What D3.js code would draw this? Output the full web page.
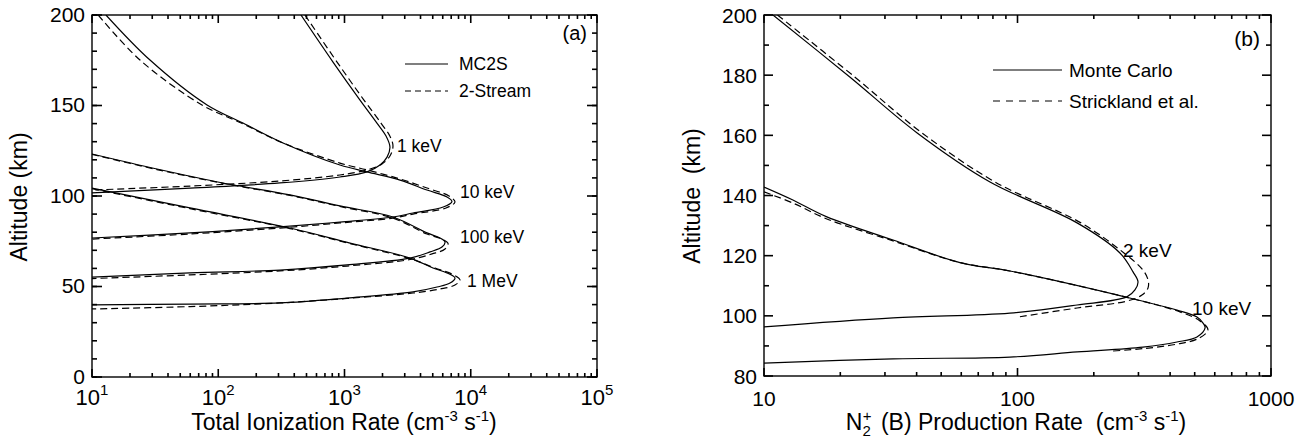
<!DOCTYPE html>
<html>
<head>
<meta charset="utf-8">
<script src="https://cdn.jsdelivr.net/npm/d3@7"></script>
<style>
  body { margin: 0; background: #fff; }
  text { font-family: "Liberation Sans", Arial, Helvetica, sans-serif; fill: #000; white-space: pre; }
</style>
</head>
<body>
<svg id="chart" width="1312" height="440"></svg>
<script>
// ---- panel (a): total ionization rate, [rate cm^-3 s^-1, altitude km] ----
var aMC_1keV = [[452,200],[811,174],[1327,153],[1807,140.3],[2133,133.1],[2291,127],[2173,121.5],[1910,117.1],[1507,113.3],[920,110.5],[308,107.2],[60,104.4],[10,101.7]];
var aTS_1keV = [[486,200],[873,174],[1426,153],[1945,140.3],[2291,133],[2421,127.6],[2291,122.1],[1982,117.7],[1507,114.4],[920,111.6],[308,108.3],[60,105.5],[10,103.3]];
var aMC_10keV = [[12.9,200],[28.8,175.1],[81.5,150.3],[157,140.3],[326,129.3],[920,117.1],[1507,113.3],[2754,108.8],[4498,103.3],[6486,99.4],[7096,96.9],[6055,93.9],[3491,90.6],[2421,88.4],[920,85.6],[308,82.9],[59.7,79.6],[10,76.8]];
var aTS_10keV = [[11.2,200],[24,175.1],[74.3,150.3],[152,140.3],[326,129.3],[920,118.2],[1507,114.4],[2754,109.4],[4498,104.4],[6730,100],[7499,96.7],[6368,93.4],[3491,90],[2421,87.8],[920,85.1],[308,82.3],[59.7,79],[10,76.2]];
var aMC_100keV = [[10,123.2],[32.7,114.9],[109,107.2],[370,100.6],[920,94.5],[2421,88.4],[4498,79.6],[5702,76.8],[6252,74.6],[5916,71.8],[4755,69.1],[3304,65.7],[1047,61.9],[308,59.1],[59.7,57.5],[10,55.2]];
var aTS_100keV = [[10,123],[32.7,114.6],[109,107],[370,100.3],[920,94.2],[2421,87.8],[4498,79],[5916,76.2],[6607,73.8],[6252,70.7],[4933,68],[3304,64.9],[1047,61.3],[308,58.6],[59.7,56.4],[10,54.4]];
var aMC_1MeV = [[10,104.4],[59.7,93.4],[370,82.3],[1107,74],[3304,65.7],[5023,60.2],[6486,57.5],[7499,54.7],[6850,51.9],[5408,49.7],[3491,47],[1047,43.6],[308,40.9],[59.7,40.3],[10,39.8]];
var aTS_1MeV = [[10,104],[59.7,93],[370,82],[1107,73.7],[3304,65.4],[5212,60.2],[7096,56.9],[8222,53.6],[7499,50.8],[5702,48.6],[3491,46.4],[1047,43.4],[308,40.9],[59.7,38.9],[10,37.6]];
var aLabels = ["1 keV", "10 keV", "100 keV", "1 MeV"];
var aYTicks = [0, 50, 100, 150, 200];
var aXExponents = [1, 2, 3, 4, 5];

// ---- panel (b): N2+ (B) production rate, [rate cm^-3 s^-1, altitude km] ----
var bMC_2keV = [[10.85,200],[21.8,179.4],[40.2,160.8],[77.9,144.5],[171.8,130.9],[253.6,120.9],[285.6,114.6],[298.8,111.3],[290.6,108.6],[270.1,106.3],[171.8,103.6],[93.3,100.9],[32.3,99.3],[10,96.3]];
var bST_2keV = [[11.3,200],[22.8,179.4],[42,160.8],[81.5,144.5],[178,130.9],[263,120.9],[312.6,115.2],[327.3,111.9],[327.3,109.3],[309.7,106.9],[270.1,104.9],[171.8,102.6],[100.5,99.6]];
var bMC_10keV = [[10,142.8],[13,138.5],[17.7,132.9],[32.3,125.2],[59.3,117.7],[93.3,114.9],[265.5,106.3],[425.6,101.9],[510.5,99.6],[539.5,97.6],[549.5,96],[510.5,93],[425.6,91.3],[312.6,89.6],[171.8,88],[93.3,86.3],[32.3,85.7],[10,84.3]];
var bST_10keV = [[10,141.2],[13,137.5],[17.7,132.2],[32.3,124.9],[59.3,117.7],[93.3,114.9],[265.5,106.3],[437.5,101.3],[524.8,98.3],[564,95.3],[515,92.4],[425.6,90.6],[312.6,89.1],[238,88.3]];
var bLabels = ["2 keV", "10 keV"];
var bYTicks = [80, 100, 120, 140, 160, 180, 200];
var bXTicks = [10, 100, 1000];

var svg = d3.select("#chart");
svg.append("rect").attr("width", 1312).attr("height", 440).attr("fill", "#fff");

// scales
var xA = d3.scaleLog().domain([10, 1e5]).range([92, 597]);
var yA = d3.scaleLinear().domain([0, 200]).range([377, 15]);
var xB = d3.scaleLog().domain([10, 1000]).range([764, 1271]);
var yB = d3.scaleLinear().domain([80, 200]).range([376, 15]);

// log minor ticks 2..9 inside each decade
function logMinor(lo, hi) {
  var out = [];
  for (var d = lo; d < hi; d *= 10)
    for (var k = 2; k <= 9; k++) out.push(d * k);
  return out;
}
function steps(a, b, s) { return d3.range(a, b + s / 2, s); }

// one record per tick: [px, py, dx, dy] with the mark running inward from the frame
function tickMarks(x, y, xMaj, xMin, yMaj, yMin, tx, ty) {
  var xr = x.range(), yr = y.range(), out = [];
  [[xMaj, tx[0]], [xMin, tx[1]]].forEach(function(set) {
    set[0].forEach(function(v) {
      out.push([x(v), yr[0], 0, -set[1]]);
      out.push([x(v), yr[1], 0, set[1]]);
    });
  });
  [[yMaj, ty[0]], [yMin, ty[1]]].forEach(function(set) {
    set[0].forEach(function(v) {
      out.push([xr[0], y(v), set[1], 0]);
      out.push([xr[1], y(v), -set[1], 0]);
    });
  });
  return out;
}

function frame(id, x, y) {
  var xr = x.range(), yr = y.range();
  svg.append("clipPath").attr("id", id).append("rect")
    .attr("x", xr[0]).attr("y", yr[1]).attr("width", xr[1] - xr[0]).attr("height", yr[0] - yr[1]);
  svg.append("rect").attr("x", xr[0]).attr("y", yr[1])
    .attr("width", xr[1] - xr[0]).attr("height", yr[0] - yr[1])
    .attr("fill", "none").attr("stroke", "#000").attr("stroke-width", 1.4);
}

function curve(x, y, clip, data, dashed) {
  var line = d3.line().x(function(d) { return x(d[0]); }).y(function(d) { return y(d[1]); })
    .curve(d3.curveCatmullRom.alpha(0.5));
  svg.append("path").datum(data).attr("d", line).attr("clip-path", "url(#" + clip + ")")
    .attr("fill", "none").attr("stroke", "#000").attr("stroke-width", 1.2)
    .attr("stroke-dasharray", dashed ? "7,4" : null);
}

// text with optional super/subscript pieces: parts = [[str, size, dy, dx], ...]
function rich(x, y, parts, anchor, rot) {
  var t = svg.append("text").attr("text-anchor", anchor || "start")
    .attr("transform", "translate(" + x + "," + y + ")" + (rot ? " rotate(" + rot + ")" : ""));
  parts.forEach(function(p) {
    t.append("tspan").attr("font-size", p[1]).attr("dy", p[2] || 0).attr("dx", p[3] || 0).text(p[0]);
  });
  return t;
}
function txt(x, y, s, size, anchor, rot) { return rich(x, y, [[s, size]], anchor, rot); }

// ================= panel (a) =================
frame("clipA", xA, yA);

[[aMC_1keV, aTS_1keV], [aMC_10keV, aTS_10keV], [aMC_100keV, aTS_100keV], [aMC_1MeV, aTS_1MeV]]
  .forEach(function(pair) { curve(xA, yA, "clipA", pair[0], false); curve(xA, yA, "clipA", pair[1], true); });

aYTicks.forEach(function(v) { txt(85, yA(v) + 6.5, String(v), 21, "end"); });
aXExponents.forEach(function(e) {
  rich(xA(Math.pow(10, e)), 405, [["10", 22], [String(e), 15, -10]], "middle");
});
rich(344, 430, [["Total Ionization Rate (cm", 23], ["-3", 15, -9], [" s", 23, 9], ["-1", 15, -9], [")", 23, 9]], "middle");
txt(27, 197, "Altitude (km)", 23, "middle", -90);

// legend (a)
svg.append("line").attr("x1", 405).attr("x2", 448).attr("y1", 64).attr("y2", 64).attr("stroke", "#000").attr("stroke-width", 1.2);
svg.append("line").attr("x1", 405).attr("x2", 448).attr("y1", 91).attr("y2", 91).attr("stroke", "#000").attr("stroke-width", 1.2).attr("stroke-dasharray", "6,4");
txt(459, 70, "MC2S", 17.5);
txt(459, 97, "2-Stream", 17.5);
txt(587, 40, "(a)", 20, "end");

var aLabelPos = [[397, 152], [460, 198], [460, 243], [467, 287]];
aLabels.forEach(function(s, i) { txt(aLabelPos[i][0], aLabelPos[i][1], s, 17.5); });

// ================= panel (b) =================
frame("clipB", xB, yB);

[[bMC_2keV, bST_2keV], [bMC_10keV, bST_10keV]]
  .forEach(function(pair) { curve(xB, yB, "clipB", pair[0], false); curve(xB, yB, "clipB", pair[1], true); });

bYTicks.forEach(function(v) { txt(757, yB(v) + 7.5, String(v), 21, "end"); });
bXTicks.forEach(function(v) { txt(xB(v), 406, String(v), 21, "middle"); });
rich(1016, 430, [["N", 23], ["2", 15, 6], ["+", 15, -15, -8], [" (B) Production Rate  (cm", 23, 9, 3], ["-3", 15, -9], [" s", 23, 9], ["-1", 15, -9], [")", 23, 9]], "middle");
txt(700, 196, "Altitude  (km)", 23, "middle", -90);

// legend (b)
svg.append("line").attr("x1", 993).attr("x2", 1062).attr("y1", 70).attr("y2", 70).attr("stroke", "#000").attr("stroke-width", 1.2);
svg.append("line").attr("x1", 993).attr("x2", 1062).attr("y1", 101).attr("y2", 101).attr("stroke", "#000").attr("stroke-width", 1.2).attr("stroke-dasharray", "7,6");
txt(1069, 77, "Monte Carlo", 19);
txt(1069, 108, "Strickland et al.", 19);
txt(1260, 46, "(b)", 21, "end");

var bLabelPos = [[1123, 257], [1192, 315]];
bLabels.forEach(function(s, i) { txt(bLabelPos[i][0], bLabelPos[i][1], s, 19); });

// ================= tick marks, both panels, drawn last =================
var allTicks = tickMarks(xA, yA, aXExponents.map(function(e) { return Math.pow(10, e); }), logMinor(10, 1e5),
                         aYTicks, steps(0, 200, 10), [8, 4], [10, 5])
  .concat(tickMarks(xB, yB, bXTicks, logMinor(10, 1000), bYTicks, steps(90, 190, 20), [8, 4], [9, 5]));

svg.append("g").selectAll("line").data(allTicks).join("line")
  .attr("x1", function(d) { return d[0]; })
  .attr("y1", function(d) { return d[1]; })
  .attr("x2", function(d) { return d[0] + d[2]; })
  .attr("y2", function(d) { return d[1] + d[3]; })
  .attr("stroke", "#000")
  .attr("stroke-width", 1.6);
</script>
</body>
</html>
